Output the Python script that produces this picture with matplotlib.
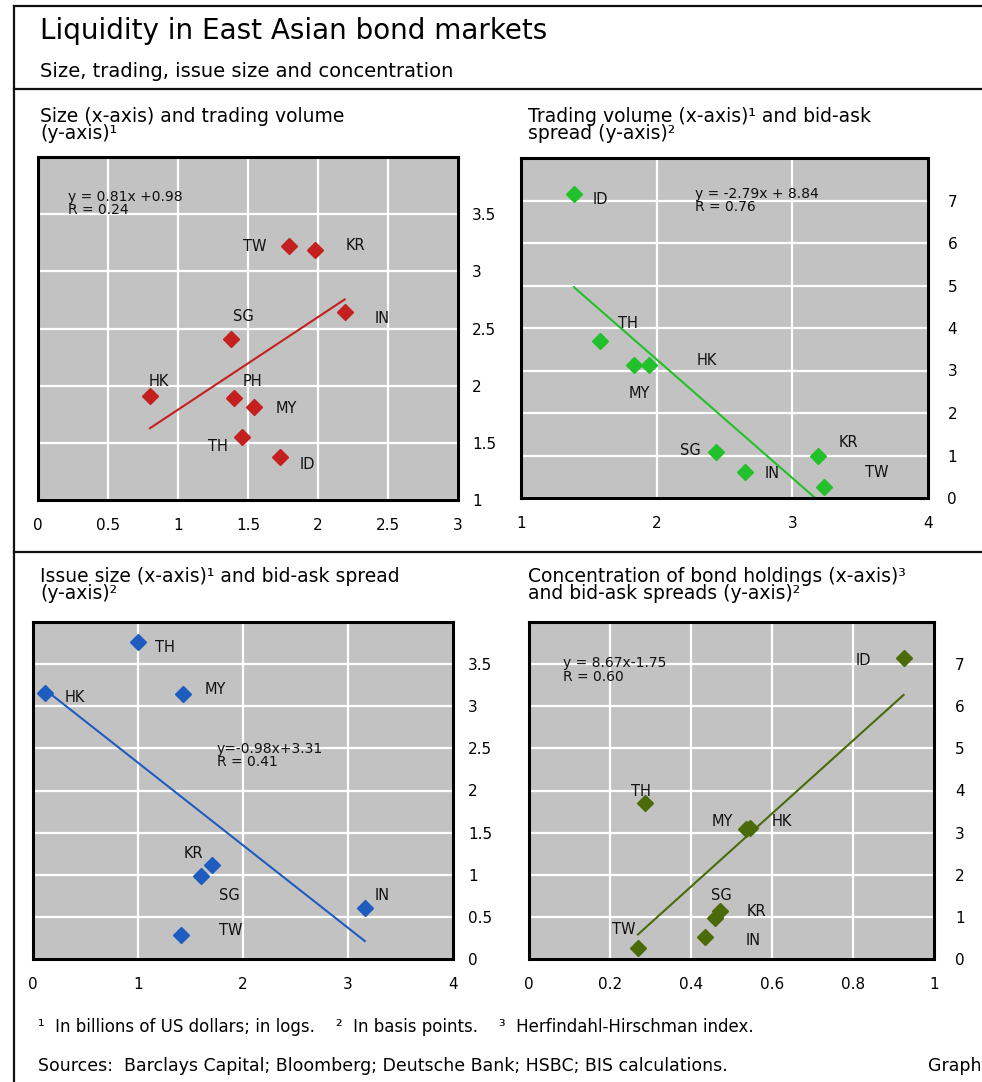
import numpy as np
import matplotlib.pyplot as plt
from matplotlib.lines import Line2D
from matplotlib.ticker import FuncFormatter

plt.rcParams['font.family'] = ['DejaVu Sans']

# panel 1: size (x) vs trading volume (y)
c1 = ["TW", "KR", "IN", "SG", "HK", "PH", "MY", "TH", "ID"]
x1 = [1.79, 1.98, 2.19, 1.38, 0.80, 1.40, 1.54, 1.46, 1.73]
y1 = [3.22, 3.19, 2.64, 2.41, 1.91, 1.89, 1.81, 1.55, 1.38]
fit1 = (0.81, 0.98)
eq1 = "y = 0.81x +0.98\nR = 0.24"

# panel 2: trading volume (x) vs bid-ask spread (y)
c2 = ["ID", "TH", "MY", "HK", "SG", "IN", "KR", "TW"]
x2 = [1.39, 1.58, 1.83, 1.94, 2.44, 2.65, 3.19, 3.23]
y2 = [7.16, 3.69, 3.12, 3.12, 1.08, 0.61, 0.98, 0.27]
fit2 = (-2.79, 8.84)
eq2 = "y = -2.79x + 8.84\nR = 0.76"

# panel 3: issue size (x) vs bid-ask spread (y)
c3 = ["TH", "HK", "MY", "KR", "SG", "IN", "TW"]
x3 = [1.00, 0.11, 1.43, 1.70, 1.60, 3.16, 1.41]
y3 = [3.76, 3.16, 3.15, 1.12, 0.98, 0.60, 0.29]
fit3 = (-0.98, 3.31)
eq3 = "y=-0.98x+3.31\nR = 0.41"

# panel 4: concentration (x) vs bid-ask spreads (y)
c4 = ["ID", "TH", "MY", "HK", "SG", "KR", "IN", "TW"]
x4 = [0.925, 0.287, 0.535, 0.545, 0.460, 0.472, 0.434, 0.269]
y4 = [7.14, 3.70, 3.08, 3.12, 0.98, 1.15, 0.52, 0.25]
fit4 = (8.67, -1.75)
eq4 = "y = 8.67x-1.75\nR = 0.60"

W, H = 982, 1082

# label offsets in pixels (layout only)
off1 = {"TW": (-34, 0), "KR": (40, 4), "IN": (38, -6), "SG": (12, 22), "HK": (9, 14),
        "PH": (18, 17), "MY": (33, -1), "TH": (-24, -9), "ID": (27, -8)}
off2 = {"ID": (26, -6), "TH": (28, 18), "HK": (58, 5), "MY": (6, -28), "SG": (-26, 2),
        "IN": (27, -1), "KR": (30, 14), "TW": (53, 14)}
off3 = {"TH": (27, -5), "HK": (30, -5), "MY": (32, 4), "KR": (-18, 11), "SG": (28, -19),
        "IN": (17, 13), "TW": (50, 4)}
off4 = {"ID": (-40, -2), "TH": (-4, 12), "MY": (-23, 8), "HK": (32, 6), "SG": (6, 22),
        "KR": (36, -1), "IN": (48, -3), "TW": (-14, 19)}


def rect(left, top, right, bottom):
    return [left / W, 1 - bottom / H, (right - left) / W, (bottom - top) / H]


fmt = FuncFormatter(lambda v, p: "{:g}".format(round(v, 2)))


def panel(ax, names, xs, ys, fit, eq, eqpos, offs, color, xlim, ylim, xt, yt, ypad, ms=8.5):
    ax.set_facecolor('#c2c2c2')
    ax.set_xlim(xlim)
    ax.set_ylim(ylim)
    ax.set_xticks(xt)
    ax.set_yticks(yt)
    ax.xaxis.set_major_formatter(fmt)
    ax.yaxis.set_major_formatter(fmt)
    ax.yaxis.tick_right()
    ax.tick_params(axis='x', length=0, pad=13, labelsize=11)
    ax.tick_params(axis='y', length=0, pad=ypad, labelsize=11)
    ax.grid(True, color='white', lw=1.6)
    ax.set_axisbelow(True)
    for s in ax.spines.values():
        s.set_linewidth(2.2)
    xx = np.array([min(xs), max(xs)])
    ax.plot(xx, fit[0] * xx + fit[1], color=color, lw=1.5, zorder=2)
    ax.plot(xs, ys, 'D', color=color, ms=ms, mec=color, zorder=3, clip_on=False)
    for n, x, y in zip(names, xs, ys):
        ax.annotate(n, (x, y), xytext=offs[n], textcoords='offset pixels',
                    ha='center', va='center', fontsize=10.5, color='#111111')
    ax.text(eqpos[0], eqpos[1], eq, transform=ax.transAxes, fontsize=10,
            va='top', ha='left', linespacing=0.95, color='#111111')


fig = plt.figure(figsize=(W / 100, H / 100), dpi=100)

ax1 = fig.add_axes(rect(38, 157, 458, 500))
panel(ax1, c1, x1, y1, fit1, eq1, (0.072, 0.905), off1, '#c42020',
      (0, 3), (1, 4), np.arange(0, 3.01, 0.5), np.arange(1, 3.51, 0.5), 10)

ax2 = fig.add_axes(rect(521, 158, 928, 498))
panel(ax2, c2, x2, y2, fit2, eq2, (0.428, 0.916), off2, '#22c02a',
      (1, 4), (0, 8), [1, 2, 3, 4], range(0, 8), 14)

ax3 = fig.add_axes(rect(33, 622, 453, 959))
panel(ax3, c3, x3, y3, fit3, eq3, (0.437, 0.645), off3, '#1f5cbf',
      (0, 4), (0, 4), [0, 1, 2, 3, 4], np.arange(0, 3.51, 0.5), 11)

ax4 = fig.add_axes(rect(529, 622, 934, 959))
panel(ax4, c4, x4, y4, fit4, eq4, (0.084, 0.898), off4, '#4b6a0a',
      (0, 1), (0, 8), np.arange(0, 1.01, 0.2), range(0, 8), 15)


def fx(px):
    return px / W


def fy(py):
    return 1 - py / H


# frame lines
for (xa, ya, xb, yb) in [(14, 6, 982, 6), (14, 89, 982, 89), (14, 552, 982, 552), (14, 6, 14, 1082)]:
    fig.add_artist(Line2D([fx(xa), fx(xb)], [fy(ya), fy(yb)], transform=fig.transFigure,
                          color='#111111', lw=1.6))

fig.text(fx(40), fy(39), "Liquidity in East Asian bond markets", fontsize=20, va='baseline')
fig.text(fx(40), fy(77), "Size, trading, issue size and concentration", fontsize=14, va='baseline')

titles = [
    (40, 107, "Size (x-axis) and trading volume\n(y-axis)¹"),
    (528, 107, "Trading volume (x-axis)¹ and bid-ask\nspread (y-axis)²"),
    (40, 567, "Issue size (x-axis)¹ and bid-ask spread\n(y-axis)²"),
    (528, 567, "Concentration of bond holdings (x-axis)³\nand bid-ask spreads (y-axis)²"),
]
for px, py, t in titles:
    fig.text(fx(px), fy(py), t, fontsize=13.5, va='top', linespacing=0.88)

fig.text(fx(38), fy(1032), "¹  In billions of US dollars; in logs.    ²  In basis points.    ³  Herfindahl-Hirschman index.",
         fontsize=12, va='baseline')
fig.text(fx(38), fy(1071), "Sources:  Barclays Capital; Bloomberg; Deutsche Bank; HSBC; BIS calculations.",
         fontsize=12.5, va='baseline')
fig.text(fx(928), fy(1071), "Graph", fontsize=12.5, va='baseline')

fig.savefig('out.png', dpi=100)
